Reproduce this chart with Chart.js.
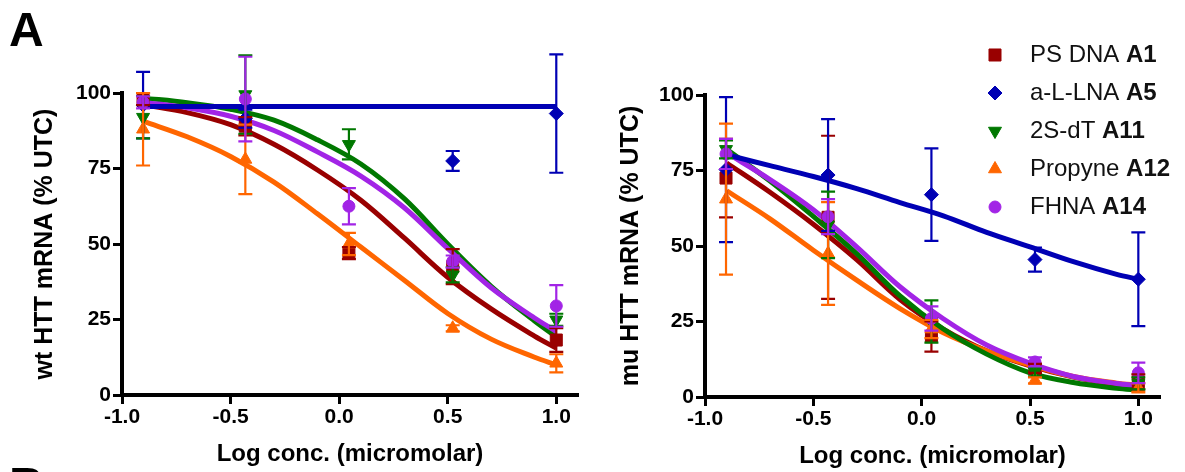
<!DOCTYPE html>
<html>
<head>
<meta charset="utf-8">
<script src="https://cdn.jsdelivr.net/npm/chart.js@4.4.1/dist/chart.umd.min.js"></script>
<style>
  html, body { margin: 0; padding: 0; background: #fff; }
  #wrap { position: relative; width: 1185px; height: 472px; overflow: hidden; background: #fff; }
  canvas { position: absolute; top: 0; }
  #wtCanvas { left: 0; }
  #muCanvas { left: 600px; }
</style>
</head>
<body>
<div id="wrap">
  <canvas id="wtCanvas" width="600" height="472"></canvas>
  <canvas id="muCanvas" width="585" height="472"></canvas>
</div>
<script>
// ============================================================
//  DATA
// ============================================================
// log10 of the dose (micromolar) for the measured points
const logConc = [-0.903, -0.432, 0.045, 0.523, 1.0];
// x positions where the fitted curves were read
const fitX    = [-0.9, -0.7, -0.5, -0.3, -0.1, 0.1, 0.3, 0.5, 0.7, 0.9, 1.0];
const xTicks  = [-1.0, -0.5, 0.0, 0.5, 1.0];
const yTicks  = [0, 25, 50, 75, 100];

const names = ["PS DNA", "a-L-LNA", "2S-dT", "Propyne", "FHNA"];
const codes = ["A1", "A5", "A11", "A12", "A14"];

// wt HTT mRNA (% UTC): means, SD, fitted curves
const wtPS      = [98, 89, 47, 42.5, 18.2];
const wtPSErr   = [2, 3, 2, 5.8, 3.9];
const wtLNA     = [96, 91.5, null, 77.5, 93.2];
const wtLNAErr  = [11, 3, null, 3.3, 19.6];
const wt2S      = [92, 99.5, 83, 39.8, 24.9];
const wt2SErr   = [7, 13, 5, 2.5, 2];
const wtProp    = [88, 78, 50, 22.1, 10.5];
const wtPropErr = [12, 11.5, 3.7, 1, 3];
const wtFHNA    = [96.9, 98, 62.5, 44.2, 29.5];
const wtFHNAErr = [2, 14, 6, 2, 6.9];

const wtPSFit   = [96.1, 93.5, 89.5, 83, 74.5, 64.5, 52, 39, 28.5, 19.5, 15.5];
const wtLNAFit  = [95.5, 95.5, 95.5, 95.5, 95.5, 95.5, 95.5, 95.5, 95.5, 95.5, 95.5];
const wt2SFit   = [98.3, 96.8, 94.6, 91, 84.5, 76.5, 65, 50, 36, 24.5, 19.3];
const wtPropFit = [90.6, 85.5, 79, 70.5, 60, 49, 38, 27, 18.5, 12.5, 10];
const wtFHNAFit = [96.9, 95.1, 92.3, 87.6, 80.5, 72.5, 62, 48.5, 35.5, 25.5, 21];

// mu HTT mRNA (% UTC)
const muPS      = [72.5, 59.5, 20, 9.5, 5];
const muPSErr   = [13, 27, 5, 1.5, 2.5];
const muLNA     = [75.3, 73.5, 67, 45.5, 39];
const muLNAErr  = [24, 18.5, 15.3, 4, 15.5];
const mu2S      = [82, 57, 25, 8.3, 4.5];
const mu2SErr   = [3, 11, 7, 1.5, 2];
const muProp    = [65.5, 47.5, 22.5, 5.5, 3];
const muPropErr = [25, 17, 3, 1, 1.5];
const muFHNA    = [80.5, 59.7, 26, 11.6, 8];
const muFHNAErr = [5, 5.8, 4, 1.5, 3.4];

const muPSFit   = [77.5, 67.8, 57.2, 45.5, 32.3, 22.5, 15.3, 10.3, 6.6, 4.2, 3.4];
const muLNAFit  = [80.2, 76.6, 73, 69, 64.4, 60, 54.5, 49.7, 44.8, 40.6, 39];
const mu2SFit   = [82, 71.5, 59.8, 47.5, 33.5, 22.5, 14.2, 8, 4.8, 2.9, 2.3];
const muPropFit = [68.3, 59, 48.6, 38.7, 29.3, 21.3, 15.3, 10.6, 6.8, 4.6, 3.9];
const muFHNAFit = [80.8, 72, 62, 49.7, 36.5, 25.9, 17.2, 11.2, 6.8, 4.5, 3.8];

// ============================================================
//  STYLE
// ============================================================
const FONT      = "'Liberation Sans', Arial, sans-serif";
const colors    = ["#990000", "#0000b4", "#007800", "#ff6600", "#a224e6"];
const markers   = ["rect", "rectRot", "triangle", "triangle", "circle"];
const markRot   = [0, 0, 180, 0, 0];
const markSize  = [8.5, 7, 7.5, 7.5, 6];
const curveOrd  = [24, 20, 22, 23, 21];   // higher = drawn first
const pointOrd  = [4, 3, 2, 1, 0];


// ============================================================
//  PLUGINS
// ============================================================
// vertical SD bars with caps, same colour as the series
const errorBars = {
  id: "errorBars",
  afterDatasetsDraw: function(chart) {
    var ctx = chart.ctx;
    var yScale = chart.scales.y;
    chart.data.datasets.forEach(function(ds, i) {
      if (!ds.errors) return;
      var meta = chart.getDatasetMeta(i);
      ctx.save();
      ctx.strokeStyle = ds.borderColor;
      ctx.lineWidth = 2.2;
      meta.data.forEach(function(pt, j) {
        var raw = ds.data[j];
        var e = ds.errors[j];
        if (raw.y == null || e == null) return;
        var x  = pt.x;
        var y1 = yScale.getPixelForValue(raw.y + e);
        var y2 = yScale.getPixelForValue(raw.y - e);
        ctx.beginPath();
        ctx.moveTo(x, y1); ctx.lineTo(x, y2);
        ctx.moveTo(x - 7, y1); ctx.lineTo(x + 7, y1);
        ctx.moveTo(x - 7, y2); ctx.lineTo(x + 7, y2);
        ctx.stroke();
      });
      ctx.restore();
    });
  }
};

// big panel letters
const panelLetters = {
  id: "panelLetters",
  afterDraw: function(chart) {
    var ctx = chart.ctx;
    ctx.save();
    ctx.fillStyle = "#000";
    ctx.font = "bold 48px " + FONT;
    ctx.textBaseline = "alphabetic";
    ctx.fillText("A", 9, 46);
    ctx.fillText("B", 9, 501);
    ctx.restore();
  }
};

// legend in the upper right corner of the mu panel
const sideLegend = {
  id: "sideLegend",
  afterDraw: function(chart) {
    var ctx = chart.ctx;
    ctx.save();
    names.forEach(function(name, i) {
      var y = 55 + i * 38;
      ctx.fillStyle = colors[i];
      ctx.strokeStyle = colors[i];
      ctx.lineWidth = 1;
      Chart.helpers.drawPoint(ctx, {
        pointStyle: markers[i], rotation: markRot[i], radius: markSize[i], borderWidth: 1
      }, 395, y);
      ctx.fillStyle = "#111";
      ctx.textBaseline = "middle";
      ctx.font = "24px " + FONT;
      var label = name + " ";
      ctx.fillText(label, 430, y);
      var w = ctx.measureText(label).width;
      ctx.font = "bold 24px " + FONT;
      ctx.fillText(codes[i], 430 + w, y);
    });
    ctx.restore();
  }
};


// ============================================================
//  CHART BUILDER
// ============================================================
function toPoints(xs, ys) {
  return xs.map(function(x, j) { return { x: x, y: ys[j] }; });
}

function buildChart(canvasId, cfg) {
  var datasets = [];

  cfg.fits.forEach(function(fit, i) {
    datasets.push({
      type: "line",
      data: toPoints(fitX, fit),
      borderColor: colors[i],
      borderWidth: 5,
      pointRadius: 0,
      fill: false,
      tension: 0.35,
      clip: false,
      order: curveOrd[i]
    });
  });

  cfg.means.forEach(function(vals, i) {
    datasets.push({
      type: "line",
      data: toPoints(logConc, vals),
      errors: cfg.errs[i],
      showLine: false,
      borderColor: colors[i],
      backgroundColor: colors[i],
      pointStyle: markers[i],
      pointRotation: markRot[i],
      pointRadius: markSize[i],
      pointBorderWidth: 1,
      clip: false,
      order: pointOrd[i]
    });
  });

  var tickFont  = { family: FONT, size: 21, weight: "bold" };
  var titleFont = { family: FONT, size: 24, weight: "bold" };
  var yTitleFont = { family: FONT, size: 25, weight: "bold" };

  return new Chart(document.getElementById(canvasId), {
    type: "line",
    data: { datasets: datasets },
    plugins: cfg.plugins,
    options: {
      responsive: false,
      animation: false,
      devicePixelRatio: 1,
      layout: { padding: { top: cfg.top, right: cfg.right, left: 0, bottom: 0 } },
      plugins: { legend: { display: false }, tooltip: { enabled: false } },
      scales: {
        x: {
          type: "linear",
          min: -1,
          max: 1.1,
          afterBuildTicks: function(s) { s.ticks = xTicks.map(function(v) { return { value: v }; }); },
          afterFit: function(s) { s.height = cfg.xHeight; },
          ticks: {
            callback: function(v) { return Number(v).toFixed(1); },
            font: tickFont, color: "#000", padding: 1, maxRotation: 0, autoSkip: false
          },
          grid: { drawOnChartArea: false, tickLength: 9, tickWidth: 3, tickColor: "#000", color: "#000" },
          border: { width: 4, color: "#000" },
          title: {
            display: true, text: "Log conc. (micromolar)", font: titleFont, color: "#000",
            padding: { top: 0, bottom: cfg.xTitlePad }
          }
        },
        y: {
          type: "linear",
          min: 0,
          max: 100,
          afterBuildTicks: function(s) { s.ticks = yTicks.map(function(v) { return { value: v }; }); },
          afterFit: function(s) { s.width = cfg.yWidth; },
          ticks: { font: tickFont, color: "#000", padding: 2 },
          grid: { drawOnChartArea: false, tickLength: 9, tickWidth: 3, tickColor: "#000", color: "#000" },
          border: { width: 4, color: "#000" },
          title: {
            display: true, text: cfg.yTitle, font: yTitleFont, color: "#000",
            padding: { top: cfg.yTitlePad, bottom: 0 }
          }
        }
      }
    }
  });
}


// ============================================================
//  DRAW BOTH PANELS
// ============================================================
buildChart("wtCanvas", {
  fits:  [wtPSFit, wtLNAFit, wt2SFit, wtPropFit, wtFHNAFit],
  means: [wtPS, wtLNA, wt2S, wtProp, wtFHNA],
  errs:  [wtPSErr, wtLNAErr, wt2SErr, wtPropErr, wtFHNAErr],
  yTitle: "wt HTT mRNA (% UTC)",
  top: 93, right: 22, xHeight: 77, yWidth: 122,
  xTitlePad: 3, yTitlePad: 30,
  plugins: [errorBars, panelLetters]
});

buildChart("muCanvas", {
  fits:  [muPSFit, muLNAFit, mu2SFit, muPropFit, muFHNAFit],
  means: [muPS, muLNA, mu2S, muProp, muFHNA],
  errs:  [muPSErr, muLNAErr, mu2SErr, muPropErr, muFHNAErr],
  yTitle: "mu HTT mRNA (% UTC)",
  top: 95, right: 25, xHeight: 75, yWidth: 105,
  xTitlePad: 1, yTitlePad: 16,
  plugins: [errorBars, sideLegend]
});
</script>
</body>
</html>
